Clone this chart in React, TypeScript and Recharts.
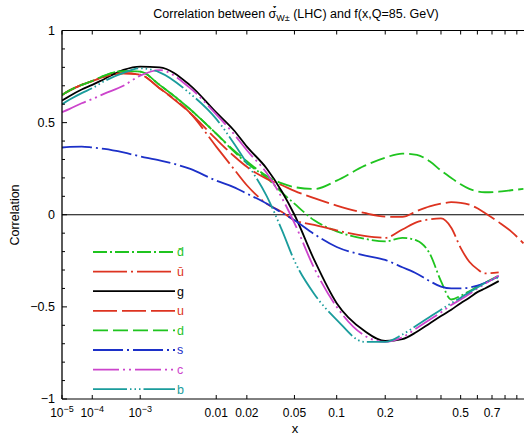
import React from 'react'
import { LineChart, Line, XAxis, YAxis, ReferenceLine, Label } from 'recharts'

// x axis of the original is drawn as x^0.2
const P = 0.2
const tx = (x: number) => Math.pow(x, P)

const X = [1e-5, 2e-5, 5e-5, 1e-4, 2e-4, 5e-4, 1e-3, 2e-3, 5e-3, 0.01, 0.015, 0.02, 0.03, 0.04, 0.05, 0.07, 0.1, 0.15, 0.2, 0.25, 0.3, 0.35, 0.4, 0.45, 0.5, 0.55, 0.6, 0.65, 0.75, 0.85, 0.96]

const G    = [0.62, 0.645, 0.68, 0.705, 0.737, 0.786, 0.804, 0.80, 0.705, 0.555, 0.46, 0.37, 0.25, 0.125, 0.0, -0.245, -0.48, -0.63, -0.685, -0.675, -0.635, -0.59, -0.55, -0.515, -0.48, -0.45, -0.42, -0.40, -0.36, null, null]
const B    = [0.60, 0.625, 0.66, 0.687, 0.725, 0.77, 0.795, 0.773, 0.66, 0.52, 0.39, 0.28, 0.1, -0.085, -0.25, -0.43, -0.57, -0.69, -0.69, -0.65, -0.60, -0.555, -0.515, -0.48, -0.45, -0.42, -0.395, -0.37, -0.34, null, null]
const C    = [0.557, 0.575, 0.605, 0.628, 0.657, 0.70, 0.755, 0.785, 0.69, 0.545, 0.44, 0.35, 0.225, 0.09, -0.045, -0.29, -0.5, -0.655, -0.69, -0.665, -0.615, -0.57, -0.53, -0.49, -0.46, -0.43, -0.40, -0.375, -0.33, null, null]
const S    = [0.365, 0.368, 0.37, 0.365, 0.357, 0.338, 0.317, 0.295, 0.25, 0.185, 0.15, 0.115, 0.06, 0.01, -0.03, -0.105, -0.175, -0.22, -0.245, -0.285, -0.32, -0.36, -0.39, -0.40, -0.40, -0.395, -0.385, -0.37, -0.334, null, null]
const D    = [0.65, 0.675, 0.705, 0.726, 0.755, 0.78, 0.777, 0.705, 0.575, 0.44, 0.35, 0.29, 0.21, 0.17, 0.15, 0.14, 0.185, 0.265, 0.31, 0.332, 0.325, 0.29, 0.24, 0.2, 0.165, 0.14, 0.127, 0.122, 0.125, 0.133, 0.14]
const U    = [0.65, 0.675, 0.705, 0.725, 0.75, 0.768, 0.76, 0.687, 0.555, 0.41, 0.32, 0.26, 0.195, 0.16, 0.13, 0.09, 0.05, 0.01, -0.01, -0.012, 0.02, 0.045, 0.06, 0.068, 0.065, 0.055, 0.035, 0.01, -0.04, -0.09, -0.155]
const DBAR = [0.65, 0.675, 0.705, 0.726, 0.755, 0.78, 0.777, 0.705, 0.575, 0.44, 0.345, 0.28, 0.2, 0.12, 0.06, -0.03, -0.09, -0.13, -0.145, -0.125, -0.14, -0.21, -0.36, -0.46, -0.44, -0.415, -0.39, -0.37, -0.33, null, null]
const UBAR = [0.65, 0.675, 0.705, 0.725, 0.75, 0.768, 0.76, 0.687, 0.555, 0.37, 0.25, 0.16, 0.06, 0.015, -0.03, -0.055, -0.085, -0.115, -0.125, -0.08, -0.04, -0.025, -0.02, -0.07, -0.18, -0.255, -0.295, -0.318, -0.313, null, null]

const X_TICKS  = [1e-5, 1e-4, 1e-3, 0.01, 0.02, 0.05, 0.1, 0.2, 0.3, 0.4, 0.5, 0.6, 0.7, 0.8, 0.9]
const X_LABELS = ['10^−5', '10^−4', '10^−3', '0.01', '0.02', '0.05', '0.1', '0.2', '', '', '0.5', '', '0.7', '', '']
const Y_TICKS  = [-1, -0.9, -0.8, -0.7, -0.6, -0.5, -0.4, -0.3, -0.2, -0.1, 0, 0.1, 0.2, 0.3, 0.4, 0.5, 0.6, 0.7, 0.8, 0.9, 1]

const GREEN = '#1fc41f', RED = '#dd3320', BLUE = '#1c30c8', MAGENTA = '#cc44cc', TEAL = '#1a9c9c'

const SERIES = [
  { key: 'dbar', label: 'd\u0304', color: GREEN,   dash: '14 3 2 3',             values: DBAR },
  { key: 'ubar', label: 'u\u0304', color: RED,     dash: '34 4 2 4',             values: UBAR },
  { key: 'g',    label: 'g',       color: '#000',  dash: undefined,              values: G },
  { key: 'u',    label: 'u',       color: RED,     dash: '24 5',                 values: U },
  { key: 'd',    label: 'd',       color: GREEN,   dash: '15 5',                 values: D },
  { key: 's',    label: 's',       color: BLUE,    dash: '30 4 2 4',             values: S },
  { key: 'c',    label: 'c',       color: MAGENTA, dash: '26 4 2 4 2 4',         values: C },
  { key: 'b',    label: 'b',       color: TEAL,    dash: '34 3 1.5 3 1.5 3 1.5 3', values: B },
]

const rows = X.map((x, i) => {
  const r: Record<string, number | null> = { xt: tx(x) }
  SERIES.forEach(s => { r[s.key] = s.values[i] })
  return r
})

const FONT = '"Liberation Sans", Arial, Helvetica, sans-serif'
const W = 524, H = 435
const XT_TICKS = X_TICKS.map(tx)
const X_DOMAIN = [0.1, 0.993]

function xLabel(v: number) {
  const i = X_TICKS.findIndex(t => Math.abs(tx(t) - v) < 1e-9)
  return i < 0 ? '' : X_LABELS[i]
}

function BottomTick(props: any) {
  const { x, y, payload } = props
  const lab = xLabel(payload.value)
  const [base, exp] = lab.split('^')
  return (
    <g>
      <line x1={x} x2={x} y1={y} y2={y - 4} stroke="#000" />
      {lab && (
        <text x={x} y={y + 18} textAnchor="middle" fontSize={12} fontFamily={FONT} fill="#000">
          {base}
          {exp && <tspan dy={-5} fontSize={9}>{exp}</tspan>}
        </text>
      )}
    </g>
  )
}

function TopTick(props: any) {
  const { x, y } = props
  return <line x1={x} x2={x} y1={y} y2={y + 4} stroke="#000" />
}

function LeftTick(props: any) {
  const { x, y, payload } = props
  const v = payload.value
  const major = Math.abs(v * 2 - Math.round(v * 2)) < 1e-9
  return (
    <g>
      <line x1={x} x2={x + (major ? 5 : 3)} y1={y} y2={y} stroke="#000" />
      {major && (
        <text x={x - 7} y={y} dy="0.35em" textAnchor="end" fontSize={12.5} fontFamily={FONT} fill="#000">
          {v < 0 ? '−' + Math.abs(v) : String(v)}
        </text>
      )}
    </g>
  )
}

export default function App() {
  return (
    <div style={{ position: 'absolute', left: 0, top: 0, width: W, height: H, background: '#fff' }}>
      <LineChart width={W} height={H} data={rows} margin={{ top: 0, right: 0, bottom: 0, left: 0 }}>
        <XAxis dataKey="xt" type="number" domain={X_DOMAIN} allowDataOverflow
          ticks={XT_TICKS} interval={0} tick={BottomTick} tickLine={false}
          tickSize={0} tickMargin={0} height={36} stroke="#000">
          <Label content={() => (
            <text x={295} y={433} textAnchor="middle" fontSize={13} fontFamily={FONT}>x</text>
          )} />
        </XAxis>
        <XAxis xAxisId="top" dataKey="xt" orientation="top" type="number" domain={X_DOMAIN} allowDataOverflow
          ticks={XT_TICKS} interval={0} tick={TopTick} tickLine={false}
          tickSize={0} tickMargin={0} height={30.5} stroke="#000">
          <Label content={() => (
            <text x={296} y={18} textAnchor="middle" fontSize={12.5} fontFamily={FONT} fill="#000">
              {'Correlation between σ\u0300\u0301'}
              <tspan dy={3} fontSize={9}>W±</tspan>
              <tspan dy={-3}>{' (LHC) and f(x,Q=85. GeV)'}</tspan>
            </text>
          )} />
        </XAxis>
        <YAxis type="number" domain={[-1, 1]} ticks={Y_TICKS} interval={0} tick={LeftTick}
          tickLine={false} tickSize={0} tickMargin={0} width={62} stroke="#000" strokeWidth={1.3}>
          <Label content={() => (
            <text x={15} y={215} transform="rotate(-90, 15, 215)" textAnchor="middle"
              dominantBaseline="central" fontSize={12.5} fontFamily={FONT}>Correlation</text>
          )} />
        </YAxis>
        <ReferenceLine y={1} stroke="#000" strokeWidth={1} />
        <ReferenceLine y={0} stroke="#000" strokeWidth={1} />
        {SERIES.map(s => (
          <Line key={s.key} dataKey={s.key} type="monotone" stroke={s.color} strokeWidth={1.8}
            xAxisId={s.key === 'g' ? 'top' : 0}
            strokeDasharray={s.dash} dot={false} activeDot={false} isAnimationActive={false} />
        ))}
      </LineChart>
      <svg width={W} height={H} style={{ position: 'absolute', left: 0, top: 0, pointerEvents: 'none' }}>
        {SERIES.map((s, i) => {
          const y = 252 + i * 19.6
          return (
            <g key={s.key}>
              <line x1={93} x2={175} y1={y} y2={y} stroke={s.color} strokeWidth={1.8} strokeDasharray={s.dash} />
              <text x={177} y={y} dy="0.35em" fontSize={12.5} fontFamily={FONT} fill={s.color}>{s.label}</text>
            </g>
          )
        })}
      </svg>
    </div>
  )
}
